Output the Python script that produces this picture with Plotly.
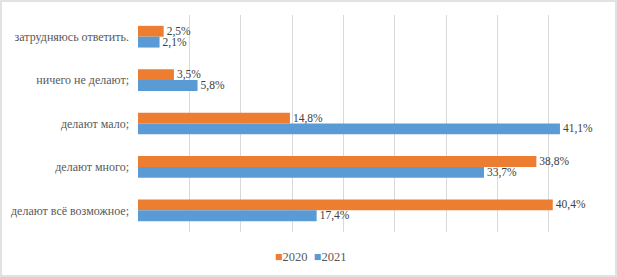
import plotly.graph_objects as go

categories = ["затрудняюсь ответить.", "ничего не делают;", "делают мало;", "делают много;", "делают всё возможное;"]
values_2020 = [2.5, 3.5, 14.8, 38.8, 40.4]
values_2021 = [2.1, 5.8, 41.1, 33.7, 17.4]
series_names = ["2020", "2021"]
colors = ["#ED7D31", "#5B9BD5"]

def fmt(v):
    return f"{v:.1f}".replace(".", ",") + "%"

FONT = "Liberation Serif"
W, H = 617, 277
L, R, T, B = 138, 17, 15, 45
pw, ph = W - L - R, H - T - B

fig = go.Figure()
for name, vals, col in zip(series_names, [values_2020, values_2021], colors):
    fig.add_trace(go.Bar(
        y=categories, x=vals, name=name, orientation="h",
        marker=dict(color=col, line=dict(width=0)),
        text=[fmt(v) for v in vals], textposition="outside", constraintext="none",
        textfont=dict(family=FONT, size=11.5, color="#404040"),
        cliponaxis=False, showlegend=False,
    ))

# legend drawn as compact text items (colored square + year)
legend_text = "&nbsp;&nbsp;".join(
    f"<span style='color:{c}'>■</span>{n}" for n, c in zip(series_names, colors))
fig.add_annotation(xref="paper", yref="paper", x=(310 - L) / pw, y=-(257 - (T + ph)) / ph,
                   xanchor="center", yanchor="middle", showarrow=False, text=legend_text,
                   font=dict(family=FONT, size=12.5, color="#595959"))

fig.update_layout(
    width=W, height=H, autosize=False,
    margin=dict(l=L, r=R, t=T, b=B, autoexpand=False),
    paper_bgcolor="white", plot_bgcolor="white",
    barmode="group", bargap=0.5, bargroupgap=0,
    font=dict(family=FONT, size=12, color="#595959"),
    xaxis=dict(range=[0, 45], dtick=5, showticklabels=False, showgrid=True,
               gridcolor="#d9d9d9", gridwidth=1, zeroline=False, showline=False,
               automargin=False),
    yaxis=dict(autorange="reversed", showgrid=False, showline=False,
               ticklabelstandoff=8, automargin=False,
               tickfont=dict(family=FONT, size=12, color="#595959")),
    showlegend=False,
    shapes=[dict(type="rect", xref="paper", yref="paper",
                 x0=-(L - 1) / pw, x1=1 + (R - 1) / pw,
                 y0=-(B - 1) / ph, y1=1 + (T - 1) / ph,
                 line=dict(color="#d9d9d9", width=1.5), fillcolor="rgba(0,0,0,0)",
                 layer="below")],
)

fig.write_html("out.html", config={"displayModeBar": False},
               post_script="document.body.style.margin='0px';")
